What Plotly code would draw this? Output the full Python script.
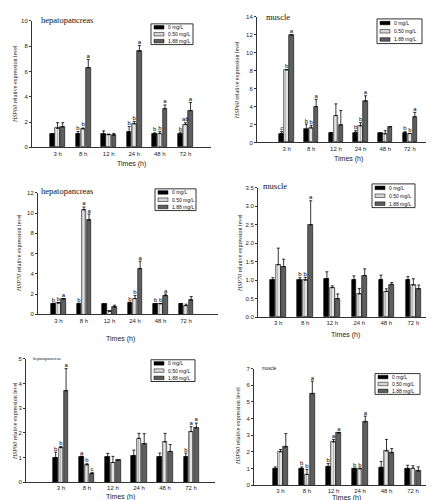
import plotly.graph_objects as go

W, H = 434, 500

times = ["3 h", "8 h", "12 h", "24 h", "48 h", "72 h"]
groups = ["0 mg/L", "0.50 mg/L", "1.88 mg/L"]

# ---- HSP60 hepatopancreas ----
hsp60_hep_mean = [[1.05, 1.05, 1.05, 1.2, 1.05, 1.05],
                  [1.5, 1.45, 1.0, 1.85, 1.1, 1.8],
                  [1.6, 6.3, 0.95, 7.6, 3.05, 2.9]]
hsp60_hep_err = [[0.0, 0.2, 0.25, 0.45, 0.1, 0.15],
                 [0.45, 0.08, 0.05, 0.2, 0.15, 0.15],
                 [0.35, 0.65, 0.15, 0.45, 0.3, 0.65]]
hsp60_hep_let = [["", "b", "", "b", "b", "b"],
                 ["", "b", "", "b", "b", "ab"],
                 ["", "a", "", "a", "a", "a"]]

# ---- HSP60 muscle ----
hsp60_mus_mean = [[1.0, 1.45, 1.1, 1.1, 1.05, 1.05],
                  [8.1, 1.6, 3.0, 1.85, 0.95, 1.0],
                  [12.0, 4.0, 1.95, 4.6, 1.75, 2.85]]
hsp60_mus_err = [[0.2, 0.6, 0.0, 0.2, 0.0, 0.15],
                 [0.0, 0.3, 1.3, 0.35, 0.35, 0.0],
                 [0.0, 0.8, 1.6, 0.6, 0.0, 0.5]]
hsp60_mus_let = [["c", "b", "", "b", "", "b"],
                 ["b", "b", "", "b", "", "b"],
                 ["a", "a", "", "a", "", "a"]]

# ---- HSP70 hepatopancreas ----
hsp70_hep_mean = [[1.05, 1.0, 1.0, 1.1, 1.05, 1.05],
                  [1.1, 10.3, 0.3, 1.55, 1.05, 0.85],
                  [1.5, 9.3, 0.7, 4.5, 1.85, 1.4]]
hsp70_hep_err = [[0.05, 0.1, 0.0, 0.1, 0.0, 0.0],
                 [0.05, 0.3, 0.0, 0.3, 0.0, 0.15],
                 [0.05, 0.6, 0.2, 0.75, 0.15, 0.35]]
hsp70_hep_let = [["b", "b", "", "b", "b", ""],
                 ["b", "a", "", "b", "b", ""],
                 ["a", "a", "", "a", "a", ""]]

# ---- HSP70 muscle ----
hsp70_mus_mean = [[1.0, 1.0, 1.05, 1.02, 1.02, 1.02],
                  [1.42, 1.0, 0.8, 0.63, 0.7, 0.87],
                  [1.37, 2.5, 0.5, 1.13, 0.89, 0.77]]
hsp70_mus_err = [[0.07, 0.07, 0.18, 0.1, 0.12, 0.08],
                 [0.45, 0.08, 0.05, 0.15, 0.07, 0.17],
                 [0.2, 0.65, 0.13, 0.18, 0.05, 0.1]]
hsp70_mus_let = [["", "b", "", "", "", ""],
                 ["", "b", "", "", "", ""],
                 ["", "a", "", "", "", ""]]

# ---- HSP90 hepatopancreas ----
hsp90_hep_mean = [[1.0, 1.05, 1.02, 1.08, 1.03, 1.03],
                  [1.4, 0.7, 0.8, 1.78, 1.63, 2.05],
                  [3.7, 0.35, 0.9, 1.55, 1.25, 2.2]]
hsp90_hep_err = [[0.22, 0.0, 0.15, 0.22, 0.15, 0.15],
                 [0.05, 0.05, 0.25, 0.2, 0.35, 0.2],
                 [0.9, 0.05, 0.0, 0.42, 0.28, 0.2]]
hsp90_hep_let = [["b", "a", "", "", "", "b"],
                 ["b", "b", "", "", "", "a"],
                 ["a", "c", "", "", "", "a"]]

# ---- HSP90 muscle ----
hsp90_mus_mean = [[1.0, 1.0, 1.1, 1.02, 1.08, 1.0],
                  [2.0, 0.65, 2.6, 0.98, 2.05, 1.02],
                  [2.3, 5.5, 3.15, 3.8, 1.95, 0.85]]
hsp90_mus_err = [[0.1, 0.1, 0.2, 0.0, 0.35, 0.2],
                 [0.15, 0.3, 0.15, 0.05, 0.7, 0.15],
                 [0.8, 0.75, 0.0, 0.35, 0.25, 0.25]]
hsp90_mus_let = [["", "b", "b", "b", "", ""],
                 ["", "b", "a", "b", "", ""],
                 ["", "a", "a", "a", "", ""]]

y_titles = ["HSP60", "HSP60", "HSP70", "HSP70", "HSP90", "HSP90"]
tissues = ["hepatopancreas", "muscle", "hepatopancreas", "muscle", "hepatopancreas", "muscle"]
y_max = [10, 14, 12, 3.5, 5, 7]
y_dtick = [2, 2, 2, 0.5, 1, 1]

data_sets = [
    (hsp60_hep_mean, hsp60_hep_err, hsp60_hep_let),
    (hsp60_mus_mean, hsp60_mus_err, hsp60_mus_let),
    (hsp70_hep_mean, hsp70_hep_err, hsp70_hep_let),
    (hsp70_mus_mean, hsp70_mus_err, hsp70_mus_let),
    (hsp90_hep_mean, hsp90_hep_err, hsp90_hep_let),
    (hsp90_mus_mean, hsp90_mus_err, hsp90_mus_let),
]

# ---- layout (pixel boxes) ----
boxes = [
    (24, 203, 10, 138, [-1.0, 6.0]),
    (249, 429, 6, 133, [-1.2, 6.1]),
    (30, 210, 184, 307, [-0.8, 6.25]),
    (250, 427, 179, 310, [-0.75, 5.8]),
    (18, 207, 352, 477, [-1.34, 5.92]),
    (246, 427, 362, 480, [-1.0, 5.83]),
]
ytitle_pos = [(7, 74), (229, 70), (11, 245), (232, 245), (7, 415), (230, 420)]
times_pos = [(123, 155), (340, 150), (112, 332), (337, 328), (113, 492), (338, 493)]
tissue_pos = [(59, 9, 8.5, "Liberation Serif"), (270, 6, 8.5, "Liberation Serif"),
              (59, 182, 8.5, "Liberation Serif"), (267, 177, 8.5, "Liberation Serif"),
              (39, 352, 4.5, "Liberation Serif"), (261, 362, 4.5, "Liberation Sans")]
legend_boxes = [(143, 13, 185, 34), (369, 8, 414, 33), (147, 180, 188, 202),
                (364, 175, 407, 199), (143, 353, 187, 375), (367, 367, 412, 388)]

bar_colors = ["#000000", "#d6d6d6", "#5e5e5e"]
offsets = [-0.2, 0.0, 0.2]
bar_w = 0.18

def px_x(x):
    return x / W

def px_y(y):
    return 1 - y / H

fig = go.Figure()
layout = dict(width=W, height=H, margin=dict(l=0, r=0, t=0, b=0),
              paper_bgcolor="white", plot_bgcolor="white", showlegend=False,
              bargap=0, barmode="overlay")
annotations = []
shapes = []

for k in range(6):
    mean, err, let = data_sets[k]
    xa = "x" if k == 0 else f"x{k+1}"
    ya = "y" if k == 0 else f"y{k+1}"
    for g in range(3):
        xs = [i + offsets[g] for i in range(6)]
        marker = dict(color=bar_colors[g], line=dict(color="black", width=0.6))
        if g == 1:
            marker["pattern"] = dict(shape="|", fgcolor="#808080", bgcolor="#e4e4e4",
                                     size=3, solidity=0.3)
        fig.add_trace(go.Bar(x=xs, y=mean[g], width=bar_w, marker=marker,
                             xaxis=xa, yaxis=ya, name=groups[g],
                             error_y=dict(type="data", array=err[g],
                                          arrayminus=[0] * 6, symmetric=False,
                                          color="black", thickness=0.8, width=1.5)))
        tops = [m + e for m, e in zip(mean[g], err[g])]
        fig.add_trace(go.Scatter(x=xs, y=tops, text=let[g], mode="text",
                                 textposition="top center", cliponaxis=False,
                                 textfont=dict(size=6, family="Liberation Sans", color="black"),
                                 xaxis=xa, yaxis=ya))
    xl, xr, yt, yb, xr_range = boxes[k]
    xkey = "xaxis" if k == 0 else f"xaxis{k+1}"
    ykey = "yaxis" if k == 0 else f"yaxis{k+1}"
    layout[xkey] = dict(domain=[px_x(xl), px_x(xr)], range=xr_range, anchor=ya,
                        tickvals=list(range(6)), ticktext=times, ticks="",
                        showline=True, linecolor="#333", linewidth=1,
                        showgrid=False, zeroline=False,
                        tickfont=dict(size=6, family="Liberation Sans", color="#222"))
    layout[ykey] = dict(domain=[px_y(yb), px_y(yt)], range=[0, y_max[k]], anchor=xa,
                        dtick=y_dtick[k], tick0=0, ticks="outside", ticklen=2,
                        tickcolor="#333", showline=True, linecolor="#333", linewidth=1,
                        showgrid=False, zeroline=False,
                        tickformat=".1f" if k == 3 else "",
                        tickfont=dict(size=6, family="Liberation Sans", color="#222"))
    tx, ty = ytitle_pos[k]
    annotations.append(dict(x=px_x(tx), y=px_y(ty), xref="paper", yref="paper",
                            text=f"<i>{y_titles[k]}</i> relative expression level",
                            textangle=-90, showarrow=False, xanchor="center", yanchor="middle",
                            font=dict(size=6, family="Liberation Serif", color="#222")))
    tx, ty = times_pos[k]
    annotations.append(dict(x=px_x(tx), y=px_y(ty), xref="paper", yref="paper",
                            text="Times (h)", showarrow=False, xanchor="center", yanchor="middle",
                            font=dict(size=7, family="Liberation Sans", color="#222")))
    tx, ty, fs, ff = tissue_pos[k]
    annotations.append(dict(x=px_x(tx), y=px_y(ty), xref="paper", yref="paper",
                            text=tissues[k], showarrow=False, xanchor="center", yanchor="middle",
                            font=dict(size=fs, family=ff, color="#111")))
    x0, y0, x1, y1 = legend_boxes[k]
    shapes.append(dict(type="rect", xref="paper", yref="paper",
                       x0=px_x(x0), x1=px_x(x1), y0=px_y(y1), y1=px_y(y0),
                       line=dict(color="black", width=0.8), fillcolor="white"))
    rh = (y1 - y0) / 3.0
    for g in range(3):
        cy = y0 + rh * (g + 0.5)
        shapes.append(dict(type="rect", xref="paper", yref="paper",
                           x0=px_x(x0 + 3), x1=px_x(x0 + 13),
                           y0=px_y(cy + 1.8), y1=px_y(cy - 1.8),
                           line=dict(color="black", width=0.5), fillcolor=bar_colors[g]))
        annotations.append(dict(x=px_x(x0 + 15), y=px_y(cy), xref="paper", yref="paper",
                                text=groups[g], showarrow=False, xanchor="left", yanchor="middle",
                                font=dict(size=5, family="Liberation Sans", color="#111")))

layout["annotations"] = annotations
layout["shapes"] = shapes
fig.update_layout(**layout)
fig.write_html("out.html")
